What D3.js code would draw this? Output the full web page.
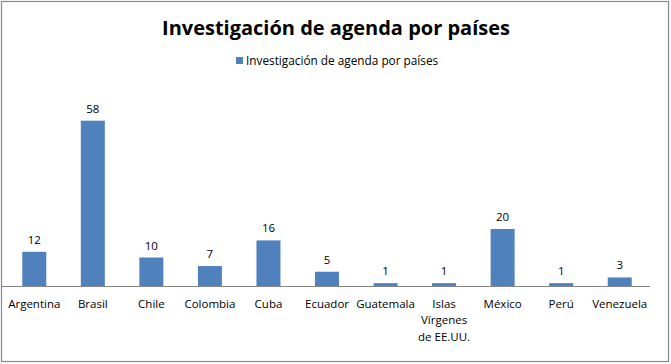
<!DOCTYPE html>
<html>
<head>
<meta charset="utf-8">
<script src="https://cdn.jsdelivr.net/npm/d3@7"></script>
<style>
  body { margin: 0; background: #fff; }
  text { font-family: "Open Sans", "Noto Sans", sans-serif; fill: #000; }
</style>
</head>
<body>
<div id="chart"></div>
<script>
let categories = ["Argentina", "Brasil", "Chile", "Colombia", "Cuba", "Ecuador", "Guatemala",
    "Islas Vírgenes de EE.UU.", "México", "Perú", "Venezuela"];
let values = [12, 58, 10, 7, 16, 5, 1, 1, 20, 1, 3];
let seriesName = "Investigación de agenda por países";
let chartTitle = "Investigación de agenda por países";

let W = 671, H = 364;
let margin = {top: 115, right: 22, bottom: 78, left: 5};

let svg = d3.select("#chart").append("svg")
    .attr("width", W)
    .attr("height", H);

// outer border
svg.append("rect")
    .attr("x", 1.5).attr("y", 1.5)
    .attr("width", W - 4).attr("height", H - 4)
    .attr("fill", "#fff")
    .attr("stroke", "#878787")
    .attr("stroke-width", 1.2);

let xScale = d3.scaleBand()
    .domain(categories)
    .range([margin.left, W - margin.right])
    .paddingInner(0.59)
    .paddingOuter(0.295);

let yScale = d3.scaleLinear()
    .domain([0, 60])
    .range([H - margin.bottom, margin.top]);

// title
svg.append("text")
    .attr("x", 336)
    .attr("y", 35)
    .attr("text-anchor", "middle")
    .style("font-size", "20px")
    .style("font-weight", "bold")
    .text(chartTitle);

// legend
let legend = svg.append("g").attr("transform", "translate(236, 57)");
legend.append("rect")
    .attr("width", 7).attr("height", 7)
    .attr("fill", "#4F81BD");
legend.append("text")
    .attr("x", 10).attr("y", 8)
    .style("font-size", "11.8px")
    .text(seriesName);

// bars
svg.selectAll(".bar")
    .data(values)
    .enter()
    .append("rect")
    .attr("class", "bar")
    .attr("x", (d, i) => xScale(categories[i]))
    .attr("y", d => yScale(d))
    .attr("width", xScale.bandwidth())
    .attr("height", d => yScale(0) - yScale(d))
    .attr("fill", "#4F81BD");

// value labels
svg.selectAll(".val")
    .data(values)
    .enter()
    .append("text")
    .attr("class", "val")
    .attr("x", (d, i) => xScale(categories[i]) + xScale.bandwidth() / 2)
    .attr("y", d => yScale(d) - 8)
    .attr("text-anchor", "middle")
    .style("font-size", "11.5px")
    .text(d => d);

// x axis
let xAxis = d3.axisBottom(xScale).tickSize(0).tickPadding(14);
let gx = svg.append("g")
    .attr("transform", `translate(0, ${yScale(0)})`)
    .call(xAxis);
gx.select(".domain").attr("stroke", "#868686").attr("d", `M${margin.left - 3},0.5H${W - margin.right + 1}`);
gx.selectAll(".tick text")
    .style("font-size", "11.5px")
    .style("font-family", "'Open Sans', sans-serif")
    .attr("fill", "#000")
    .call(wrap, 62);

function wrap(sel, maxW) {
    sel.each(function() {
        let t = d3.select(this);
        let words = t.text().split(/\s+/);
        let y = t.attr("y"), dy = parseFloat(t.attr("dy"));
        t.text(null);
        let line = [], lineNo = 0;
        let tspan = t.append("tspan").attr("x", 0).attr("y", y).attr("dy", dy + "em");
        words.forEach(w => {
            line.push(w);
            tspan.text(line.join(" "));
            if (tspan.node().getComputedTextLength() > maxW && line.length > 1) {
                line.pop();
                tspan.text(line.join(" "));
                line = [w];
                lineNo++;
                tspan = t.append("tspan").attr("x", 0).attr("y", y)
                    .attr("dy", (lineNo * 1.42 + dy) + "em").text(w);
            }
        });
    });
}
</script>
</body>
</html>
